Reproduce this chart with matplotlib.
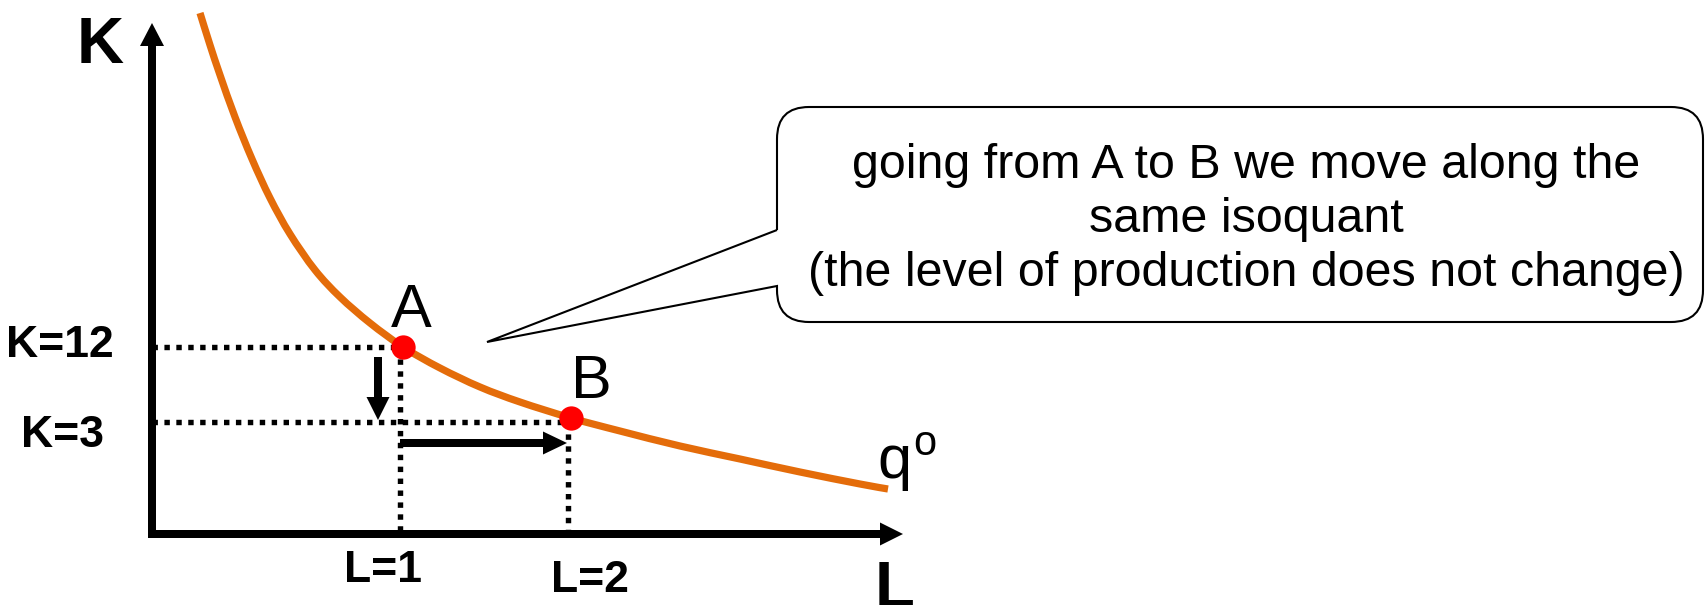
import matplotlib
matplotlib.use("Agg")
import matplotlib.pyplot as plt
from matplotlib.patches import FancyArrow, PathPatch
from matplotlib.path import Path

plt.rcParams['font.family'] = ['Liberation Sans', 'DejaVu Sans']

# ---- data (schematic units, origin at the axes corner) ----
curve_L = [48, 58, 68, 83, 100, 118, 138, 163, 188, 218, 251, 288, 328, 368,
           419, 468, 528, 588, 648, 708, 736]
curve_K = [521, 489, 459, 417, 375, 336, 300, 264, 237, 211, 187, 166, 147, 132,
           116, 103, 88, 75, 62, 50, 45]
point_names = ["A", "B"]
point_L = [251, 419]
point_K = [187, 116]
guide_L = [248, 416]
guide_K = [187, 112]
K_labels = ["K=12", "K=3"]
L_labels = ["L=1", "L=2"]
callout_lines = ["going from A to B we move along the",
                 "same isoquant",
                 "(the level of production does not change)"]

ORANGE = "#E46C0A"


def smooth_path(xs, ys):
    """Catmull-Rom curve through the given points, drawn as cubic Beziers."""
    pts = list(zip(xs, ys))
    ext = [pts[0]] + pts + [pts[-1]]
    verts = [pts[0]]
    codes = [Path.MOVETO]
    for i in range(1, len(ext) - 2):
        p0, p1, p2, p3 = ext[i - 1], ext[i], ext[i + 1], ext[i + 2]
        c1 = (p1[0] + (p2[0] - p0[0]) / 6, p1[1] + (p2[1] - p0[1]) / 6)
        c2 = (p2[0] - (p3[0] - p1[0]) / 6, p2[1] - (p3[1] - p1[1]) / 6)
        verts += [c1, c2, p2]
        codes += [Path.CURVE4] * 3
    return Path(verts, codes)


fig = plt.figure(figsize=(17.05, 6.05), dpi=100)
ax = fig.add_axes([0, 0, 1, 1])
ax.set_xlim(-152, 1553)
ax.set_ylim(-71, 534)
ax.axis('off')

# axes arrows
ax.add_patch(FancyArrow(0, -4, 0, 515, width=8, head_width=24, head_length=23,
                        length_includes_head=True, color='black', lw=0, zorder=5))
ax.add_patch(FancyArrow(-4, 0, 755, 0, width=8, head_width=23, head_length=23,
                        length_includes_head=True, color='black', lw=0, zorder=5))
ax.text(-52, 471, "K", fontsize=47, fontweight='bold', ha='center', va='baseline')
ax.text(743, -73, "L", fontsize=47, fontweight='bold', ha='center', va='baseline')

# dotted guides
dot_style = dict(color='black', lw=3.9, linestyle=(0, (1, 1.2)), zorder=2)
for gl, gk in zip(guide_L, guide_K):
    ax.plot([0, gl], [gk, gk], **dot_style)
    ax.plot([gl, gl], [gk, 0], **dot_style)

# isoquant
ax.add_patch(PathPatch(smooth_path(curve_L, curve_K), facecolor='none',
                       edgecolor=ORANGE, lw=5.2, capstyle='butt', zorder=3))
ax.text(725, 56, "q", fontsize=44, ha='left', va='baseline')
ax.text(761, 79, "o", fontsize=30, ha='left', va='baseline')

# points
ax.plot(point_L, point_K, 'o', color='#FF0000', markersize=17.5, mec='none', zorder=4)
label_dx = [8, 20]
for name, pl, pk, dx in zip(point_names, point_L, point_K, label_dx):
    ax.text(pl + dx, pk + 20, name, fontsize=44, ha='center', va='baseline')

# tick labels
ax.text(-92, 177, K_labels[0], fontsize=32, fontweight='bold', ha='center', va='baseline')
ax.text(-89, 87, K_labels[1], fontsize=32, fontweight='bold', ha='center', va='baseline')
ax.text(231, -48, L_labels[0], fontsize=32, fontweight='bold', ha='center', va='baseline')
ax.text(438, -58, L_labels[1], fontsize=32, fontweight='bold', ha='center', va='baseline')

# movement arrows
ax.add_patch(FancyArrow(226, 177, 0, -63, width=8, head_width=23, head_length=23,
                        length_includes_head=True, color='black', lw=0, zorder=5))
ax.add_patch(FancyArrow(248, 91, 167, 0, width=8, head_width=23, head_length=24,
                        length_includes_head=True, color='black', lw=0, zorder=5))

# callout
x0, x1, y0, y1, r = 625, 1551, 212, 427, 32
tail_top, tail_bot = 304, 248
tip = (335, 192)
verts = [(x0, tail_top), (x0, y1 - r), (x0, y1), (x0 + r, y1),
         (x1 - r, y1), (x1, y1), (x1, y1 - r),
         (x1, y0 + r), (x1, y0), (x1 - r, y0),
         (x0 + r, y0), (x0, y0), (x0, y0 + r),
         (x0, tail_bot), tip, (x0, tail_top)]
codes = [Path.MOVETO, Path.LINETO, Path.CURVE3, Path.CURVE3,
         Path.LINETO, Path.CURVE3, Path.CURVE3,
         Path.LINETO, Path.CURVE3, Path.CURVE3,
         Path.LINETO, Path.CURVE3, Path.CURVE3,
         Path.LINETO, Path.LINETO, Path.LINETO]
ax.add_patch(PathPatch(Path(verts, codes), facecolor='white', edgecolor='black',
                       lw=1.5, joinstyle='miter', zorder=1))
cx = (x0 + x1) / 2 + 6
for i, line in enumerate(callout_lines):
    ax.text(cx, 369 - 54.5 * i, line, fontsize=34.8, ha='center', va='center', zorder=6)

fig.savefig("out.png", dpi=100)
